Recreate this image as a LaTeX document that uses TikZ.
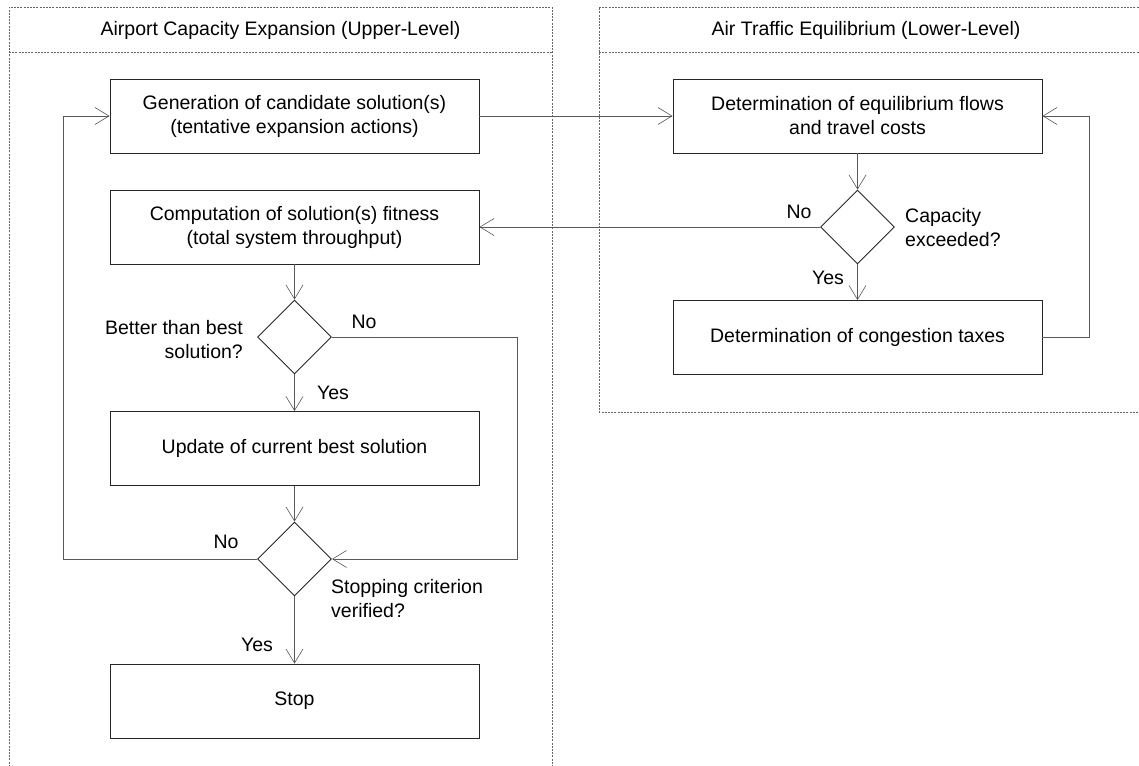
\documentclass[tikz,border=0pt]{standalone}
\usepackage{fontspec}
\setmainfont{Liberation Sans}
\usetikzlibrary{arrows.meta,shapes.geometric}
\begin{document}
\begin{tikzpicture}[x=1pt,y=-1pt,
  font=\fontsize{19.5}{24}\selectfont,
  box/.style={draw=black!85, line width=0.9pt, minimum width=369pt, minimum height=74pt, align=center, inner sep=0pt},
  dec/.style={draw=black!85, line width=0.9pt, diamond, minimum width=74pt, minimum height=74pt, inner sep=0pt},
  conn/.style={draw=black!65, line width=0.8pt},
  arr/.style={conn, -{Straight Barb[length=14pt,width=17pt,line width=0.6pt]}},
  frame/.style={draw=black!60, line width=0.8pt, dash pattern=on 2pt off 1.2pt},
  lbl/.style={inner sep=0pt}]
\fill[white] (0,0) rectangle (1139,765);
\useasboundingbox (0,0) rectangle (1139,765);
% frames
\draw[frame] (9,770) -- (9,7) -- (552,7) -- (552,770);
\draw[frame] (9,52) -- (552,52);
\node[lbl] (t1) at (280.5,30) {Airport Capacity Expansion (Upper-Level)};
\draw[frame] (1145,7) -- (599,7) -- (599,412) -- (1145,412);
\draw[frame] (599,52) -- (1145,52);
\node[lbl] (t2) at (866,30) {Air Traffic Equilibrium (Lower-Level)};
% nodes
\node[box] (g) at (294.5,116) {Generation of candidate solution(s)\\(tentative expansion actions)};
\node[box] (c) at (294.5,227) {Computation of solution(s) fitness\\(total system throughput)};
\node[dec] (d1) at (294.5,337) {};
\node[box] (u) at (294.5,448.5) {Update of current best solution};
\node[dec] (d2) at (294.5,559) {};
\node[box] (s) at (294.5,701) {Stop};
\node[box] (e) at (857.5,116) {Determination of equilibrium flows\\and travel costs};
\node[dec] (d3) at (857.5,227) {};
\node[box] (t) at (857.5,337.5) {Determination of congestion taxes};
% connectors
\coordinate (rr) at (1089,0);
\coordinate (nr) at (517,0);
\coordinate (ll) at (63,0);
\draw[arr] (g.east) -- (e.west);
\draw[arr] (e.south) -- (d3.north);
\draw[arr] (d3.west) -- (c.east);
\draw[arr] (d3.south) -- (t.north);
\draw[arr] (t.east) -- (t.east -| rr) -- (e.east -| rr) -- (e.east);
\draw[arr] (c.south) -- (d1.north);
\draw[arr] (d1.south) -- (u.north);
\draw[arr] (u.south) -- (d2.north);
\draw[arr] (d2.south) -- (s.north);
\draw[arr] (d1.east) -- (d1.east -| nr) -- (d2.east -| nr) -- (d2.east);
\draw[arr] (d2.west) -- (d2.west -| ll) -- (g.west -| ll) -- (g.west);
% labels
\node[lbl] (l1) at (799,212) {No};
\node[lbl] (l2) at (828,278) {Yes};
\node[lbl, anchor=west, align=left] (l3) at (905,227.5) {Capacity\\exceeded?};
\node[lbl, anchor=east, align=right] (l4) at (243,340) {Better than best\\solution?};
\node[lbl] (l5) at (364,322) {No};
\node[lbl] (l6) at (333,393) {Yes};
\node[lbl] (l7) at (226,542) {No};
\node[lbl, anchor=west, align=left] (l8) at (331,599) {Stopping criterion\\verified?};
\node[lbl] (l9) at (257,645) {Yes};
\end{tikzpicture}
\end{document}
